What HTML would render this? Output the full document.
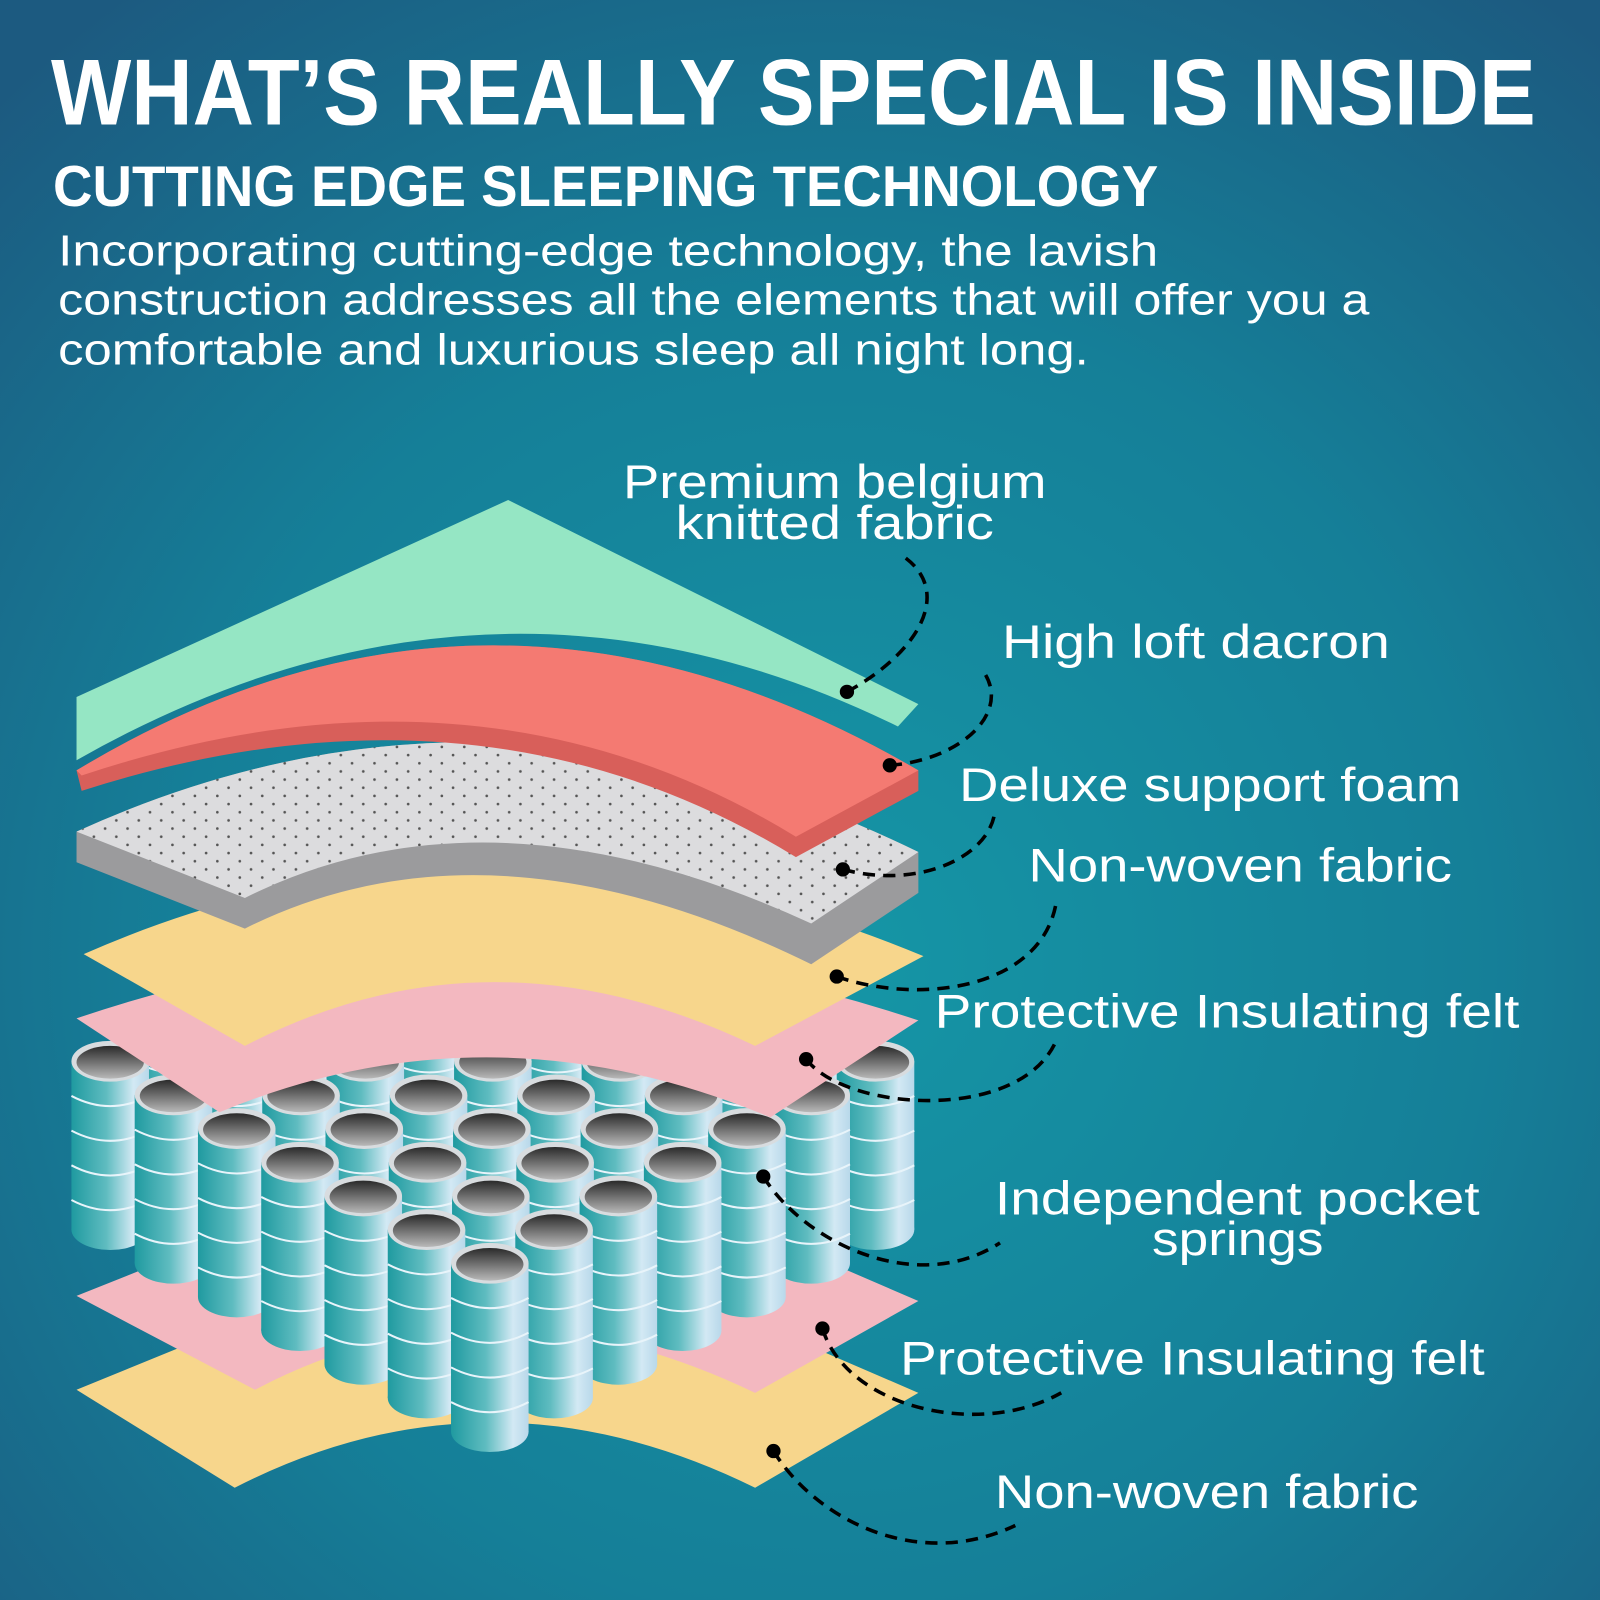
<!DOCTYPE html>
<html><head><meta charset="utf-8"><style>
html,body{margin:0;padding:0;width:1600px;height:1600px;overflow:hidden;background:#1b5c80}
svg{display:block}
text{font-family:"Liberation Sans",sans-serif;fill:#fff}
</style></head><body>
<svg id="s" width="1600" height="1600" viewBox="0 0 1568 1568" xmlns="http://www.w3.org/2000/svg">
<defs>
<radialGradient id="bg" cx="0.52" cy="0.6" r="0.75">
<stop offset="0" stop-color="#1596a6"/><stop offset="0.55" stop-color="#157f98"/><stop offset="1" stop-color="#1c5a80"/>
</radialGradient>
<linearGradient id="cyl" x1="0" x2="1" y1="0" y2="0">
<stop offset="0" stop-color="#1f9aa0"/><stop offset="0.45" stop-color="#5fbcc0"/><stop offset="0.8" stop-color="#d3e9f4"/><stop offset="1" stop-color="#b8d8ea"/>
</linearGradient>
<linearGradient id="inner" x1="0" x2="0" y1="0" y2="1">
<stop offset="0" stop-color="#2a2a2a"/><stop offset="1" stop-color="#b8b8b8"/>
</linearGradient>
<pattern id="dots" width="22" height="16" patternUnits="userSpaceOnUse">
<circle cx="4" cy="4" r="1.3" fill="#555"/><circle cx="15" cy="12" r="1.3" fill="#555"/>
</pattern>
</defs>
<rect width="1568" height="1568" fill="url(#bg)"/>
<text x="50" y="122" font-size="92" font-weight="bold" textLength="1455" lengthAdjust="spacingAndGlyphs">WHAT’S REALLY SPECIAL IS INSIDE</text>
<text x="52" y="202" font-size="56" font-weight="bold" textLength="1083" lengthAdjust="spacingAndGlyphs">CUTTING EDGE SLEEPING TECHNOLOGY</text>
<g font-size="43">
<text x="57" y="260" textLength="1078" lengthAdjust="spacingAndGlyphs">Incorporating cutting-edge technology, the lavish</text>
<text x="57" y="308" textLength="1285" lengthAdjust="spacingAndGlyphs">construction addresses all the elements that will offer you a</text>
<text x="57" y="357" textLength="1010" lengthAdjust="spacingAndGlyphs">comfortable and luxurious sleep all night long.</text>
</g>
<!-- bottom layers -->
<path d="M75,1362 L300,1270 L680,1270 L900,1365 L740,1458 Q480,1330 230,1458 Z" fill="#f7d68c"/>
<path d="M75,1270 L300,1180 L680,1180 L900,1275 L740,1365 Q480,1240 250,1362 Z" fill="#f3b8c0"/>
<g id="springs"></g>
<!-- upper pink -->
<path d="M75,998 Q480,860 900,1000 L755,1095 Q480,980 215,1090 Z" fill="#f3b8c0"/>
<!-- yellow -->
<path d="M82,935 Q480,760 905,937 L740,1025 Q480,900 240,1025 Z" fill="#f7d68c"/>
<!-- gray -->
<path d="M75,815 Q480,630 900,835 L900,875 L795,945 Q480,790 240,910 L75,845 Z" fill="#9b9b9d"/>
<path d="M75,815 Q480,630 900,835 L795,905 Q480,760 240,880 Z" fill="#dcdcde"/>
<path d="M75,815 Q480,630 900,835 L795,905 Q480,760 240,880 Z" fill="url(#dots)"/>
<!-- red -->
<path d="M75,755 Q480,510 900,755 L900,775 L780,840 Q470,650 80,775 Z" fill="#d85f5a"/>
<path d="M75,755 Q480,510 900,755 L780,820 Q470,630 80,760 Z" fill="#f47a72"/>
<!-- mint -->
<path d="M75,683 L498,490 L900,690 L880,712 Q480,515 75,745 Z" fill="#95e6c4"/>
<!-- labels -->
<g font-size="46">
<text x="818" y="488" text-anchor="middle" textLength="415" lengthAdjust="spacingAndGlyphs">Premium belgium</text>
<text x="818" y="528" text-anchor="middle" textLength="312" lengthAdjust="spacingAndGlyphs">knitted fabric</text>
<text x="982" y="645" textLength="380" lengthAdjust="spacingAndGlyphs">High loft dacron</text>
<text x="940" y="785" textLength="492" lengthAdjust="spacingAndGlyphs">Deluxe support foam</text>
<text x="1008" y="864" textLength="415" lengthAdjust="spacingAndGlyphs">Non-woven fabric</text>
<text x="916" y="1007" textLength="573" lengthAdjust="spacingAndGlyphs">Protective Insulating felt</text>
<text x="975" y="1190" textLength="475" lengthAdjust="spacingAndGlyphs">Independent pocket</text>
<text x="1213" y="1230" text-anchor="middle" textLength="168" lengthAdjust="spacingAndGlyphs">springs</text>
<text x="882" y="1347" textLength="573" lengthAdjust="spacingAndGlyphs">Protective Insulating felt</text>
<text x="975" y="1478" textLength="415" lengthAdjust="spacingAndGlyphs">Non-woven fabric</text>
</g>
<g fill="none" stroke="#000" stroke-width="3.5" stroke-dasharray="12,8">
<path d="M830,678 C900,640 935,580 885,545"/>
<path d="M872,750 C940,745 990,700 965,660"/>
<path d="M826,852 C900,872 970,840 975,795"/>
<path d="M820,957 C900,985 1020,970 1035,885"/>
<path d="M790,1038 C830,1090 1000,1100 1035,1020"/>
<path d="M748,1153 C790,1220 900,1270 980,1218"/>
<path d="M806,1302 C830,1380 960,1410 1040,1365"/>
<path d="M758,1422 C800,1490 900,1540 995,1495"/>
</g>
<g fill="#000">
<circle cx="830" cy="678" r="7"/><circle cx="872" cy="750" r="7"/><circle cx="826" cy="852" r="7"/>
<circle cx="820" cy="957" r="7"/><circle cx="790" cy="1038" r="7"/><circle cx="748" cy="1153" r="7"/>
<circle cx="806" cy="1302" r="7"/><circle cx="758" cy="1422" r="7"/>
</g>
</svg>
<script>
(function(){
var g=document.getElementById('springs'),ns='http://www.w3.org/2000/svg',items=[];
for(var i=0;i<7;i++)for(var j=0;j<7;j++){var x=108+62*i+63*j,y=1040+33*i-33*j;items.push([x,y]);}
items.sort(function(a,b){return a[1]-b[1]});
function el(t,a){var e=document.createElementNS(ns,t);for(var k in a)e.setAttribute(k,a[k]);g.appendChild(e);return e;}
items.forEach(function(p){var x=p[0],y=p[1],r=38,ry=20,h=165;
el('rect',{x:x-r,y:y,width:2*r,height:h,fill:'url(#cyl)'});
el('ellipse',{cx:x,cy:y+h,rx:r,ry:ry,fill:'url(#cyl)'});
for(var k=1;k<5;k++){el('path',{d:'M'+(x-r)+','+(y+k*34)+' Q'+x+','+(y+k*34+ry)+' '+(x+r)+','+(y+k*34),fill:'none',stroke:'#e8f4fa','stroke-width':2});}
el('ellipse',{cx:x,cy:y,rx:r,ry:ry,fill:'#d8dcdf'});
el('ellipse',{cx:x,cy:y+1,rx:r-5,ry:ry-4,fill:'url(#inner)'});
});
})();
</script>
</body></html>
